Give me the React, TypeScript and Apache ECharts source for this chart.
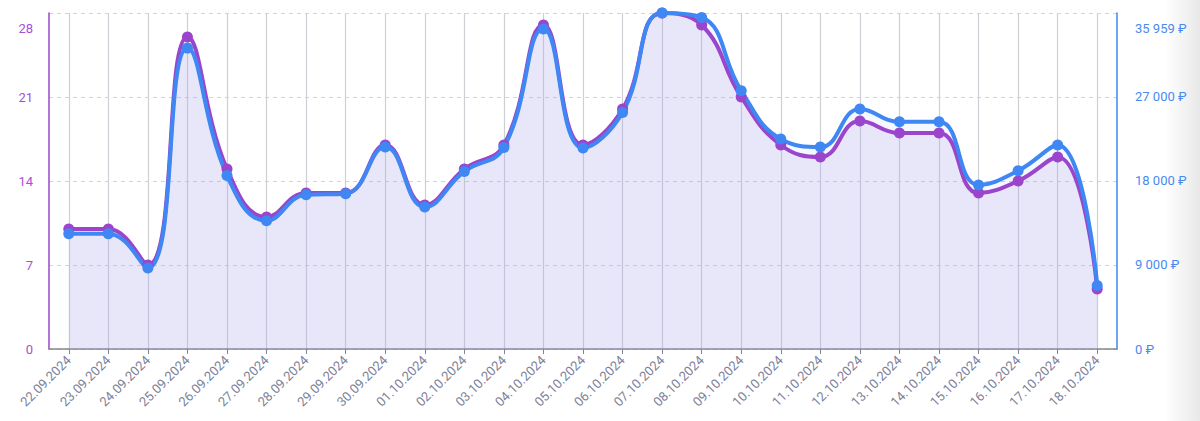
import React, { useEffect, useRef } from "react";
import * as echarts from "echarts";

const categories = [
  "22.09.2024", "23.09.2024", "24.09.2024", "25.09.2024", "26.09.2024", "27.09.2024",
  "28.09.2024", "29.09.2024", "30.09.2024", "01.10.2024", "02.10.2024", "03.10.2024",
  "04.10.2024", "05.10.2024", "06.10.2024", "07.10.2024", "08.10.2024", "09.10.2024",
  "10.10.2024", "11.10.2024", "12.10.2024", "13.10.2024", "14.10.2024", "15.10.2024",
  "16.10.2024", "17.10.2024", "18.10.2024",
];

const countValues = [10, 10, 7, 26, 15, 11, 13, 13, 17, 12, 15, 17, 27, 17, 20, 28, 27, 21, 17, 16, 19, 18, 18, 13, 14, 16, 5];

const moneyValues = [
  12340, 12340, 8670, 32200, 18580, 13730, 16510, 16620, 21610, 15190, 19000, 21570,
  34240, 21510, 25320, 35959, 35480, 27640, 22470, 21610, 25680, 24320, 24320, 17550,
  19080, 21830, 6800,
];

const leftTicks = { min: 0, max: 28, interval: 7 };
const rightTicks = { min: 0, max: 35959, interval: 9000 };

const PURPLE = "#9a45cc";
const BLUE = "#3f87f3";

function fmtRub(v: number): string {
  const s = Math.round(v).toString().replace(/\B(?=(\d{3})+(?!\d))/g, " ");
  return s + " \u20bd";
}

export default function App() {
  const ref = useRef<HTMLDivElement>(null);
  useEffect(() => {
    if (!ref.current) return;
    const chart = echarts.init(ref.current, undefined, { renderer: "svg" });
    const font = "Roboto, 'Noto Sans', sans-serif";
    chart.setOption({
      animation: false,
      textStyle: { fontFamily: font },
      graphic: [
        {
          type: "rect",
          z: -10,
          shape: { x: 1165, y: 0, width: 35, height: 421 },
          style: {
            fill: new echarts.graphic.LinearGradient(0, 0, 1, 0, [
              { offset: 0, color: "rgba(0,0,0,0)" },
              { offset: 1, color: "rgba(0,0,0,0.09)" },
            ]),
          },
        },
      ],
      grid: { left: 49, right: 83, top: 13, bottom: 72, containLabel: false },
      xAxis: {
        type: "category",
        data: categories,
        boundaryGap: true,
        axisLine: { show: true, lineStyle: { color: "#85858f", width: 1.5 } },
        axisTick: { show: true, alignWithLabel: true, length: 5, lineStyle: { color: "#85858f" } },
        splitLine: { show: true, alignWithLabel: true, lineStyle: { color: "#cfcfd6", width: 1.2 } },
        axisLabel: {
          rotate: 45,
          fontSize: 13,
          color: "#7d8199",
          margin: 9,
          interval: 0,
          fontFamily: font,
        },
      },
      yAxis: [
        {
          type: "value",
          position: "left",
          min: leftTicks.min,
          max: leftTicks.max,
          interval: leftTicks.interval,
          axisLine: { show: true, lineStyle: { color: PURPLE, width: 1.5 } },
          axisTick: { show: false },
          splitLine: { show: true, lineStyle: { color: "#d2d2d8", type: [4, 4], width: 1 } },
          axisLabel: {
            fontSize: 13,
            color: "#a550d6",
            margin: 16,
            fontFamily: font,
            formatter: (v: number) => (v === leftTicks.max ? "{mx|" + v + "}" : String(v)),
            rich: { mx: { padding: [30, 0, 0, 0], fontSize: 13, color: "#a550d6", fontFamily: font } },
          },
        },
        {
          type: "value",
          position: "right",
          min: rightTicks.min,
          max: rightTicks.max,
          interval: rightTicks.interval,
          axisLine: { show: true, lineStyle: { color: BLUE, width: 1.5 } },
          axisTick: { show: false },
          splitLine: { show: false },
          axisLabel: {
            fontSize: 13,
            color: "#4a8af0",
            margin: 18,
            fontFamily: font,
            formatter: (v: number) =>
              v === rightTicks.max ? "{mx|" + fmtRub(v) + "}" : fmtRub(v),
            rich: { mx: { padding: [30, 0, 0, 0], fontSize: 13, color: "#4a8af0", fontFamily: font } },
          },
        },
      ],
      series: [
        {
          type: "line",
          name: "count",
          yAxisIndex: 0,
          data: countValues,
          smooth: 0.45,
          symbol: "circle",
          symbolSize: 11,
          lineStyle: { color: PURPLE, width: 4 },
          itemStyle: { color: PURPLE },
          areaStyle: { color: "rgba(185,165,232,0.27)" },
        },
        {
          type: "line",
          name: "money",
          yAxisIndex: 1,
          data: moneyValues,
          smooth: 0.45,
          symbol: "circle",
          symbolSize: 11,
          lineStyle: { color: BLUE, width: 4 },
          itemStyle: { color: BLUE },
          areaStyle: { color: "rgba(80,120,240,0.08)" },
        },
      ],
    });
    return () => chart.dispose();
  }, []);
  return (
    <div
      ref={ref}
      style={{ position: "absolute", left: 0, top: 0, width: 1200, height: 421 }}
    />
  );
}
